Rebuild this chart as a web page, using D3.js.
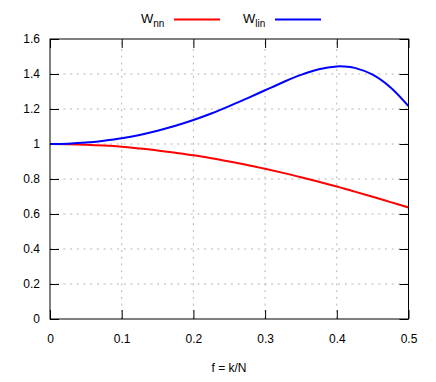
<!DOCTYPE html>
<html>
  <head>
    <script src="https://d3js.org/d3.v7.min.js"></script>
    <style>
      body { margin: 0; background: #fff; }
      text { font-family: "Liberation Sans", Arial, sans-serif; font-size: 12px; fill: #000; }
      .grid line { stroke: #b4b4b4; stroke-width: 1; stroke-dasharray: 2,4.7; }
    </style>
  </head>
  <body>
    <svg id="chart" width="436" height="382"></svg>
    <script>
      // values
      var freqs  = [0, 0.025, 0.05, 0.075, 0.1, 0.125, 0.15, 0.175, 0.2, 0.225, 0.25, 0.275, 0.3, 0.325, 0.35, 0.375, 0.4, 0.41, 0.425, 0.45, 0.475, 0.5];
      var wNN    = [1, 0.999, 0.996, 0.991, 0.984, 0.974, 0.963, 0.950, 0.936, 0.919, 0.900, 0.880, 0.858, 0.835, 0.810, 0.784, 0.757, 0.746, 0.728, 0.699, 0.668, 0.637];
      var wLin   = [1, 1.002, 1.008, 1.019, 1.033, 1.052, 1.076, 1.104, 1.137, 1.174, 1.216, 1.261, 1.307, 1.353, 1.395, 1.427, 1.443, 1.443, 1.435, 1.396, 1.323, 1.216];
      var xTicks = [0, 0.1, 0.2, 0.3, 0.4, 0.5];
      var yTicks = [0, 0.2, 0.4, 0.6, 0.8, 1, 1.2, 1.4, 1.6];

      var svg = d3.select("#chart");
      var pLeft = 50, pRight = 408.5, pTop = 39, pBottom = 319;

      var x = d3.scaleLinear().domain([0, 0.5]).range([pLeft, pRight]);
      var y = d3.scaleLinear().domain([0, 1.6]).range([pBottom, pTop]);

      // dotted grid
      var grid = svg.append("g").attr("class", "grid");
      grid.selectAll(".gx").data(xTicks.slice(1, -1)).enter().append("line")
        .attr("x1", d => x(d)).attr("x2", d => x(d))
        .attr("y1", pBottom).attr("y2", pTop);
      grid.selectAll(".gy").data(yTicks.slice(1, -1)).enter().append("line")
        .attr("y1", d => y(d)).attr("y2", d => y(d))
        .attr("x1", pLeft).attr("x2", pRight);

      // axes with inward ticks, mirrored on top and right
      var tl = 9;
      svg.append("g").attr("transform", "translate(0," + pBottom + ")")
        .call(d3.axisBottom(x).tickValues(xTicks).tickSize(-tl).tickPadding(15).tickFormat(d3.format("")))
        .call(g => g.select(".domain").remove());
      svg.append("g").attr("transform", "translate(0," + pTop + ")")
        .call(d3.axisTop(x).tickValues(xTicks).tickSize(-tl).tickFormat(""))
        .call(g => g.select(".domain").remove());
      svg.append("g").attr("transform", "translate(" + pLeft + ",0)")
        .call(d3.axisLeft(y).tickValues(yTicks).tickSize(-tl).tickPadding(10).tickFormat(d3.format("")))
        .call(g => g.select(".domain").remove());
      svg.append("g").attr("transform", "translate(" + pRight + ",0)")
        .call(d3.axisRight(y).tickValues(yTicks).tickSize(-tl).tickFormat(""))
        .call(g => g.select(".domain").remove());
      svg.selectAll(".tick text").attr("font-size", 12).attr("font-family", "Liberation Sans, Arial, sans-serif");
      svg.selectAll(".tick line").attr("stroke", "#000");

      // curves
      var line = d3.line().curve(d3.curveCatmullRom);
      svg.append("path")
        .attr("d", line(freqs.map((f, i) => [x(f), y(wNN[i])])))
        .attr("fill", "none").attr("stroke", "#ff0000").attr("stroke-width", 2);
      svg.append("path")
        .attr("d", line(freqs.map((f, i) => [x(f), y(wLin[i])])))
        .attr("fill", "none").attr("stroke", "#0000ff").attr("stroke-width", 2);

      // frame
      svg.append("rect")
        .attr("x", pLeft).attr("y", pTop).attr("width", pRight - pLeft).attr("height", pBottom - pTop)
        .attr("fill", "none").attr("stroke", "#000").attr("stroke-width", 1);

      // x label
      svg.append("text").attr("x", 229).attr("y", 372).attr("text-anchor", "middle")
        .text("f = k/N");

      // legend
      var legend = [
        { name: "W", sub: "nn", color: "#ff0000", tx: 141, lx1: 174, lx2: 220 },
        { name: "W", sub: "lin", color: "#0000ff", tx: 243, lx1: 275, lx2: 321 }
      ];
      legend.forEach(function(d) {
        var t = svg.append("text").attr("x", d.tx).attr("y", 23);
        t.append("tspan").attr("font-size", 13).text(d.name);
        t.append("tspan").attr("font-size", 10).attr("dy", 4).text(d.sub);
        svg.append("line").attr("x1", d.lx1).attr("x2", d.lx2).attr("y1", 19.5).attr("y2", 19.5)
          .attr("stroke", d.color).attr("stroke-width", 2);
      });
    </script>
  </body>
</html>
